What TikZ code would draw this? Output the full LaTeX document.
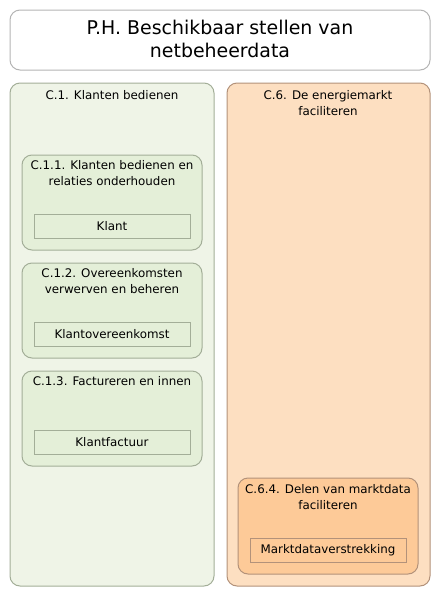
\documentclass[tikz,border=0pt]{standalone}
\usepackage{fontspec}
\setmainfont{DejaVu Sans}
\definecolor{greenouter}{HTML}{EFF4E7}
\definecolor{greeninner}{HTML}{E4EFD8}
\definecolor{greenline}{HTML}{A3AE98}
\definecolor{orangeouter}{HTML}{FDDFC1}
\definecolor{orangeinner}{HTML}{FDCA98}
\definecolor{orangeline}{HTML}{B3927A}
\definecolor{titleline}{HTML}{B4B4B4}
\tikzset{
  groupbox/.style={draw=#1line, rounded corners=7.5pt, line width=0.75pt},
  objbox/.style={draw=#1line, line width=0.75pt},
  boxlabel/.style={anchor=north, align=center, inner sep=0pt, font=\fontsize{8.9pt}{12pt}\selectfont},
}
\begin{document}
\begin{tikzpicture}[x=0.75pt, y=-0.75pt]
\useasboundingbox (0,0) rectangle (441,597);
% title
\draw[groupbox=title, fill=white] (10,10) rectangle (430,70);
\node[anchor=north, align=center, inner sep=0pt, font=\fontsize{14.2pt}{17.4pt}\selectfont] (ph) at (220,20) {P.H. Beschikbaar stellen van\\netbeheerdata};
% C.1
\draw[groupbox=green, fill=greenouter] (10,83) rectangle (214,586);
\node[boxlabel] (c1) at (112,90) {C.1. Klanten bedienen};
\draw[groupbox=green, fill=greeninner] (22,155) rectangle (202,250);
\node[boxlabel] (c11) at (112,160) {C.1.1. Klanten bedienen en\\relaties onderhouden};
\draw[objbox=green, fill=greeninner] (34,214) rectangle (190,238);
\node[boxlabel, anchor=center] (klant) at (112,226.5) {Klant};
\draw[groupbox=green, fill=greeninner] (22,263) rectangle (202,358);
\node[boxlabel] (c12) at (112,268) {C.1.2. Overeenkomsten\\verwerven en beheren};
\draw[objbox=green, fill=greeninner] (34,322) rectangle (190,346);
\node[boxlabel, anchor=center] (klantov) at (112,334.5) {Klantovereenkomst};
\draw[groupbox=green, fill=greeninner] (22,371) rectangle (202,466);
\node[boxlabel] (c13) at (112,376) {C.1.3. Factureren en innen};
\draw[objbox=green, fill=greeninner] (34,430) rectangle (190,454);
\node[boxlabel, anchor=center] (klantf) at (112,442.5) {Klantfactuur};
% C.6
\draw[groupbox=orange, fill=orangeouter] (227,83) rectangle (430,586);
\node[boxlabel] (c6) at (328,90) {C.6. De energiemarkt\\faciliteren};
\draw[groupbox=orange, fill=orangeinner] (238,478) rectangle (418,574);
\node[boxlabel] (c64) at (328,484) {C.6.4. Delen van marktdata\\faciliteren};
\draw[objbox=orange, fill=orangeinner] (250,538) rectangle (406,562);
\node[boxlabel, anchor=center] (mdv) at (328,550.5) {Marktdataverstrekking};
\end{tikzpicture}
\end{document}
